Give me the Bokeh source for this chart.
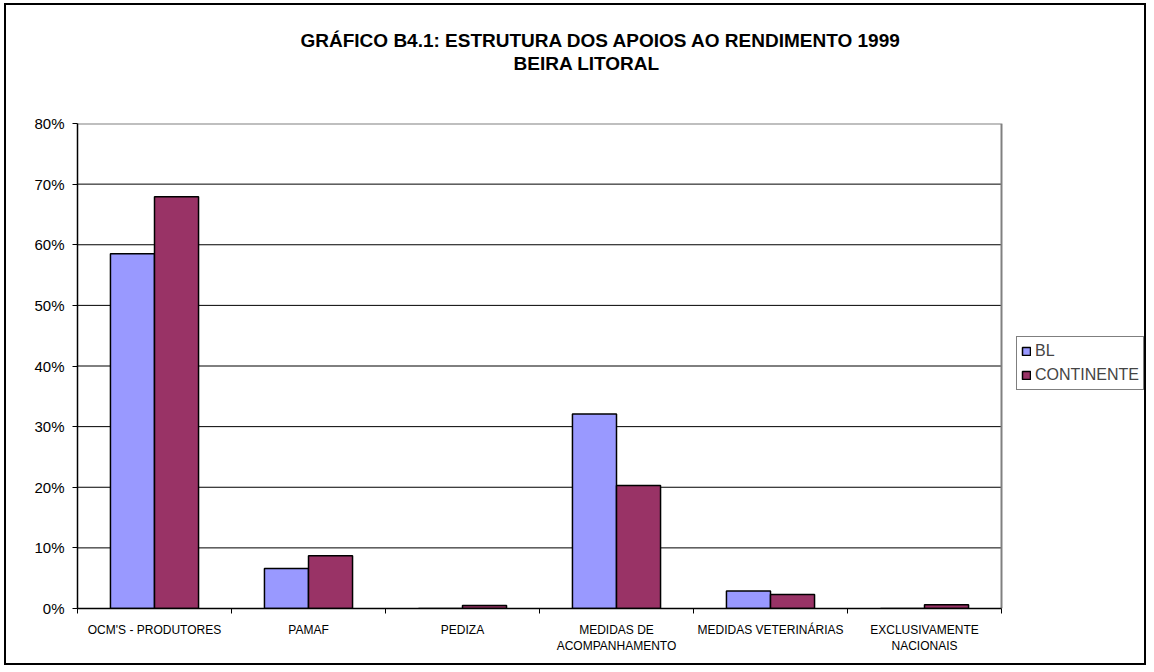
from bokeh.plotting import figure
from bokeh.models import (Range1d, FixedTicker, NumeralTickFormatter, Legend, LegendItem, Title,
                          ColumnDataSource)
from bokeh.embed import file_html
from bokeh.resources import INLINE
import numpy as np

categories = ["OCM'S - PRODUTORES", "PAMAF", "PEDIZA", "MEDIDAS DE\nACOMPANHAMENTO",
              "MEDIDAS VETERINÁRIAS", "EXCLUSIVAMENTE\nNACIONAIS"]
series_names = ["BL", "CONTINENTE"]
bl_values = [0.585, 0.066, 0.0, 0.321, 0.029, 0.0]
cont_values = [0.679, 0.087, 0.005, 0.203, 0.023, 0.006]
y_ticks = [0.0, 0.1, 0.2, 0.3, 0.4, 0.5, 0.6, 0.7, 0.8]
colors = ["#9999FF", "#993366"]
title_lines = ["GRÁFICO B4.1: ESTRUTURA DOS APOIOS AO RENDIMENTO 1999", "BEIRA LITORAL"]

FONT = "Liberation Sans"
W, H = 1142, 662
n = len(categories)
centers = np.arange(n) + 0.5
bar_w = 0.286

# layout in pixels (canvas coords): plot area left..right, frame extends to the right edge for legend
left_px, plot_right_px, top_px, bottom_px = 71, 995, 118, 603
frame_w = W - left_px
x_end = n * frame_w / (plot_right_px - left_px)
y_max = y_ticks[-1]

p = figure(width=W, height=H, output_backend="svg", toolbar_location=None,
           x_range=Range1d(0, x_end), y_range=Range1d(0, y_max),
           min_border_left=left_px, min_border_right=0, min_border_top=top_px,
           min_border_bottom=H - bottom_px)
p.styles = {"border": "2px solid black", "margin": "3px 0px 0px 4px"}
p.background_fill_color = "white"
p.border_fill_color = "white"
p.outline_line_color = None

# gridlines (only within the plot area)
gy = y_ticks[1:-1]
p.segment(x0=[0] * len(gy), x1=[n] * len(gy), y0=gy, y1=gy, line_color="black", line_width=1)
# plot-area border (top and right)
p.line(x=[0, n, n], y=[y_max, y_max, 0], line_color="#808080", line_width=2)

src_bl = ColumnDataSource(dict(x=centers - bar_w / 2, top=bl_values))
src_ct = ColumnDataSource(dict(x=centers + bar_w / 2, top=cont_values))
r1 = p.vbar(x="x", top="top", width=bar_w, bottom=0, source=src_bl,
            fill_color=colors[0], line_color="black", line_width=1.5)
r2 = p.vbar(x="x", top="top", width=bar_w, bottom=0, source=src_ct,
            fill_color=colors[1], line_color="black", line_width=1.5)

# y axis
ya = p.yaxis[0]
ya.ticker = FixedTicker(ticks=y_ticks)
ya.formatter = NumeralTickFormatter(format="0%")
ya.axis_line_color = "black"
ya.axis_line_width = 1.5
ya.major_tick_out = 5
ya.major_tick_in = 0
ya.minor_tick_line_color = None
ya.major_label_text_font = FONT
ya.major_label_text_font_size = "15px"
ya.major_label_text_color = "black"
ya.major_label_standoff = 8

# x axis
xa = p.xaxis[0]
xa.bounds = (0, n)
xa.ticker = FixedTicker(ticks=list(centers), minor_ticks=list(range(n + 1)))
xa.major_label_overrides = {float(c): lab for c, lab in zip(centers, categories)}
xa.axis_line_color = "black"
xa.axis_line_width = 1.5
xa.major_tick_line_color = None
xa.minor_tick_line_color = "black"
xa.minor_tick_out = 5
xa.minor_tick_in = 0
xa.major_label_text_font = FONT
xa.major_label_text_font_size = "12px"
xa.major_label_text_color = "black"
xa.major_label_standoff = 8

p.xgrid.grid_line_color = None
p.ygrid.grid_line_color = None

# title: panels stack outward from the frame (spacer, second line, first line)
spacer = Title(text=" ", align="left", standoff=27, text_font=FONT, text_font_size="19px")
t2 = Title(text=title_lines[1], align="left", offset=436, standoff=0, text_font=FONT,
           text_font_size="19px", text_font_style="bold", text_color="black")
t1 = Title(text=title_lines[0], align="left", offset=223, standoff=0, text_font=FONT,
           text_font_size="19px", text_font_style="bold", text_color="black")
p.add_layout(spacer, "above")
p.add_layout(t2, "above")
p.add_layout(t1, "above")

legend = Legend(items=[LegendItem(label=series_names[0], renderers=[r1]),
                       LegendItem(label=series_names[1], renderers=[r2])],
                location=(939, 218), padding=4, spacing=4, margin=0,
                label_standoff=4, glyph_width=10, glyph_height=10, label_height=20,
                label_text_font=FONT, label_text_font_size="16px",
                border_line_color="black", border_line_width=1)
p.add_layout(legend, "center")

open("out.html", "w").write(file_html(p, INLINE))
